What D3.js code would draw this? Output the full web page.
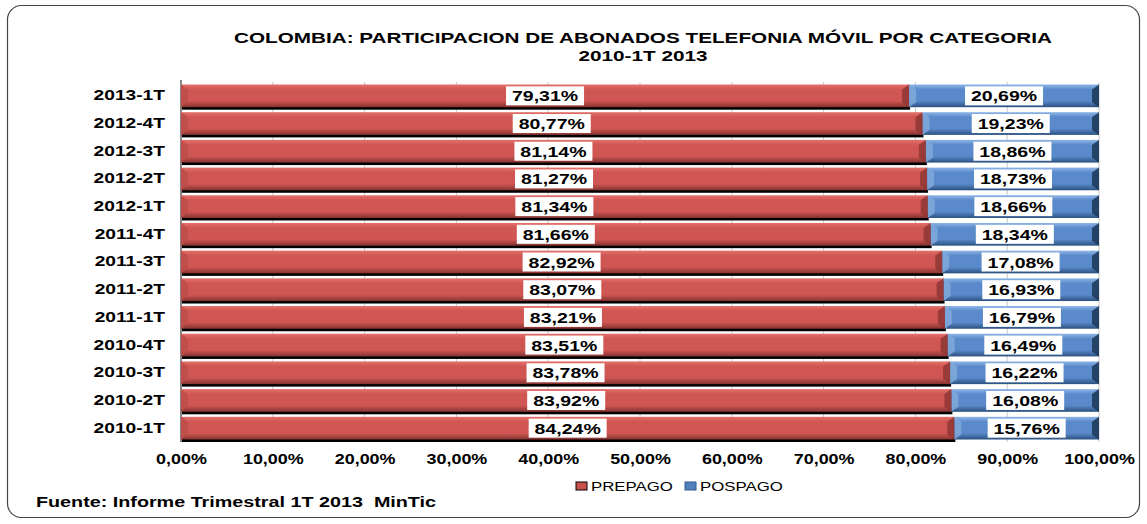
<!doctype html>
<html>
<head>
<meta charset="UTF-8">
<title>Abonados telefonia movil</title>
<script src="https://d3js.org/d3.v7.min.js"></script>
<style>
  body { margin: 0; background: #fff; }
  text { font-family: "Liberation Sans", Arial, sans-serif; }
</style>
</head>
<body>
<script>
// datos
var categorias = ["2013-1T","2012-4T","2012-3T","2012-2T","2012-1T","2011-4T","2011-3T",
                  "2011-2T","2011-1T","2010-4T","2010-3T","2010-2T","2010-1T"];
var prepago = [79.31, 80.77, 81.14, 81.27, 81.34, 81.66, 82.92, 83.07, 83.21, 83.51, 83.78, 83.92, 84.24];
var pospago = [20.69, 19.23, 18.86, 18.73, 18.66, 18.34, 17.08, 16.93, 16.79, 16.49, 16.22, 16.08, 15.76];
var ticks = [0, 10, 20, 30, 40, 50, 60, 70, 80, 90, 100];
var series = ["PREPAGO", "POSPAGO"];

var W = 1147, H = 524;
var svg = d3.select("body").append("svg").attr("width", W).attr("height", H);

// el texto original es mas ancho: se estira en horizontal
function stretch(sel, k) {
  sel.each(function() {
    var l = this.getComputedTextLength();
    d3.select(this).attr("textLength", l * k).attr("lengthAdjust", "spacingAndGlyphs");
  });
}

var defs = svg.append("defs");
function grad(id, c1, c2, c3) {
  var g = defs.append("linearGradient").attr("id", id)
    .attr("x1", 0).attr("y1", 0).attr("x2", 0).attr("y2", 1);
  g.append("stop").attr("offset", "0%").attr("stop-color", c1);
  g.append("stop").attr("offset", "22%").attr("stop-color", c2);
  g.append("stop").attr("offset", "72%").attr("stop-color", c2);
  g.append("stop").attr("offset", "100%").attr("stop-color", c3);
}
grad("gRed", "#e3716c", "#d05653", "#843331");
grad("gBlue", "#8fb5e6", "#5a8acb", "#2b5080");

// marco exterior
svg.append("rect").attr("x", 7.5).attr("y", 5.5).attr("width", 1132).attr("height", 512)
  .attr("rx", 14).attr("fill", "#fff").attr("stroke", "#444").attr("stroke-width", 1.2);

// titulo
var t1 = svg.append("text").attr("x", 643).attr("y", 43).attr("text-anchor", "middle")
  .attr("font-size", 15).attr("font-weight", "bold")
  .text("COLOMBIA: PARTICIPACION DE ABONADOS TELEFONIA MÓVIL POR CATEGORIA");
var t2 = svg.append("text").attr("x", 643).attr("y", 61).attr("text-anchor", "middle")
  .attr("font-size", 15).attr("font-weight", "bold").text("2010-1T 2013");
stretch(t1, 1.38);
stretch(t2, 1.38);

var x = d3.scaleLinear().domain([0, 100]).range([181, 1099]);
var y = d3.scaleBand().domain(categorias).range([82, 442]).paddingInner(0.18).paddingOuter(0.09);

// rejilla
svg.append("g").selectAll("line").data(ticks).enter().append("line")
  .attr("x1", d => x(d)).attr("x2", d => x(d))
  .attr("y1", 82).attr("y2", 442)
  .attr("stroke", "#c8c8c8").attr("stroke-width", 1);

// eje x
var xAxis = d3.axisBottom(x).tickValues(ticks).tickSize(0)
  .tickFormat(d => d3.format(".2f")(d).replace(".", ",") + "%");
var gx = svg.append("g").attr("transform", "translate(0,448)").call(xAxis);
gx.select(".domain").remove();
gx.selectAll("text").attr("font-size", 14).attr("font-weight", "bold")
  .attr("fill", "#000").attr("dy", "0.9em")
  .style("font-family", "'Liberation Sans', Arial, sans-serif");
stretch(gx.selectAll("text"), 1.28);

// eje y
var yAxis = d3.axisLeft(y).tickSize(0);
var gy = svg.append("g").attr("transform", "translate(168,0)").call(yAxis);
gy.select(".domain").remove();
gy.selectAll("text").attr("font-size", 14).attr("font-weight", "bold").attr("fill", "#000")
  .style("font-family", "'Liberation Sans', Arial, sans-serif");
stretch(gy.selectAll("text"), 1.37);

svg.append("line").attr("x1", 181).attr("x2", 181).attr("y1", 80).attr("y2", 442)
  .attr("stroke", "#888").attr("stroke-width", 2);

var rows = categorias.map(function(c, i) {
  return [
    {cat: c, s: 0, x0: 0, x1: prepago[i], v: prepago[i]},
    {cat: c, s: 1, x0: prepago[i], x1: prepago[i] + pospago[i], v: pospago[i]}
  ];
});
var segs = [].concat.apply([], rows);

var bh = y.bandwidth();
var g = svg.append("g");
// sombra (solo prepago)
g.selectAll("rect.sh").data(segs.filter(d => d.s === 0)).enter().append("rect").attr("class", "sh")
  .attr("x", d => x(d.x0) + 1).attr("y", d => y(d.cat) + 2.5)
  .attr("width", d => x(d.x1) - x(d.x0)).attr("height", bh)
  .attr("fill", "#000");
// barras
g.selectAll("rect.bar").data(segs).enter().append("rect").attr("class", "bar")
  .attr("x", d => x(d.x0)).attr("y", d => y(d.cat))
  .attr("width", d => x(d.x1) - x(d.x0)).attr("height", bh)
  .attr("fill", d => d.s === 0 ? "url(#gRed)" : "url(#gBlue)");
// bisel izquierdo y derecho
g.selectAll("path.bl").data(segs).enter().append("path").attr("class", "bl")
  .attr("d", function(d) {
    var a = x(d.x0), t = y(d.cat), b = t + bh;
    return "M" + a + "," + t + "L" + (a + 7) + "," + (t + 5) + "L" + (a + 7) + "," + (b - 5) + "L" + a + "," + b + "Z";
  })
  .attr("fill", d => d.s === 0 ? "#bd4d4a" : "#80a9dc").attr("opacity", 0.85);
g.selectAll("path.br").data(segs).enter().append("path").attr("class", "br")
  .attr("d", function(d) {
    var a = x(d.x1), t = y(d.cat), b = t + bh;
    return "M" + a + "," + t + "L" + (a - 7) + "," + (t + 5) + "L" + (a - 7) + "," + (b - 5) + "L" + a + "," + b + "Z";
  })
  .attr("fill", d => d.s === 0 ? "#8f3634" : "#1c3656").attr("opacity", 0.85);

// etiquetas
var fmt = d => d3.format(".2f")(d).replace(".", ",") + "%";
var lab = g.selectAll("g.lab").data(segs).enter().append("g").attr("class", "lab")
  .attr("transform", d => "translate(" + x((d.x0 + d.x1) / 2) + "," + (y(d.cat) + bh / 2) + ")");
lab.append("rect").attr("x", -39).attr("y", -9.5).attr("width", 78).attr("height", 19).attr("fill", "#fff");
var lt = lab.append("text").attr("text-anchor", "middle").attr("dy", "0.37em")
  .attr("font-size", 15).attr("font-weight", "bold").text(d => fmt(d.v));
stretch(lt, 1.3);

// leyenda
var leg = svg.append("g").attr("transform", "translate(576,482)");
series.forEach(function(s, i) {
  var lx = i === 0 ? 0 : 109;
  leg.append("rect").attr("x", lx).attr("y", 0).attr("width", 11).attr("height", 8)
    .attr("fill", i === 0 ? "#c8504c" : "#4f81bd").attr("stroke", i === 0 ? "#000" : "#345a8a");
  var tx = leg.append("text").attr("x", lx + 15).attr("y", 9).attr("font-size", 12).text(s);
  stretch(tx, 1.4);
});

// fuente
var src = svg.append("text").attr("x", 36).attr("y", 507).attr("font-size", 14).attr("font-weight", "bold")
  .text("Fuente: Informe Trimestral 1T 2013\u00a0 MinTic");
stretch(src, 1.41);
</script>
</body>
</html>
